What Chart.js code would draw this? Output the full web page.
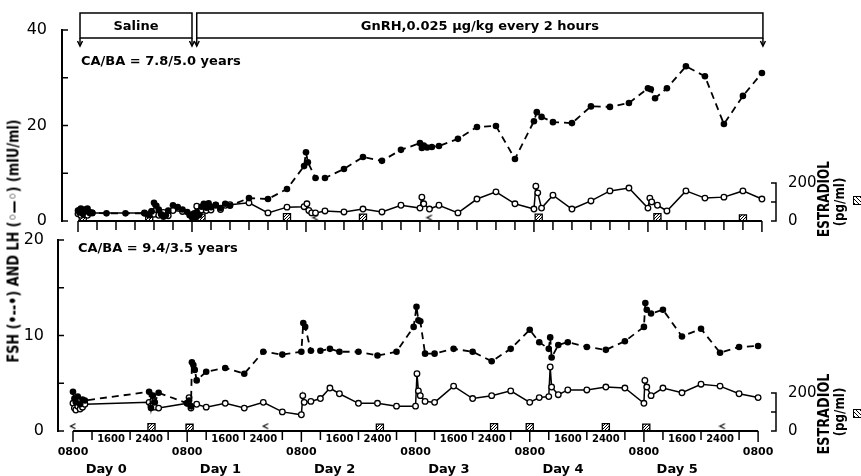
<!DOCTYPE html>
<html>
<head>
<meta charset="utf-8">
<script src="https://cdn.jsdelivr.net/npm/chart.js@4.4.1/dist/chart.umd.min.js"></script>
<style>
html, body { margin: 0; padding: 0; background: #fff; }
#wrap { position: relative; width: 861px; height: 476px; overflow: hidden; }
#wrap canvas { position: absolute; left: 0; top: 0; }
.lbl { position: absolute; font-family: 'DejaVu Sans', sans-serif; font-weight: bold; color: #000; white-space: nowrap; }
.hatch { position: absolute; width: 7px; height: 7px; border: 1px solid #000;
  background: repeating-linear-gradient(45deg, #000 0 1px, #fff 1px 3px); }
</style>
</head>
<body>
<div id="wrap">
  <canvas id="topChart" width="861" height="476"></canvas>
  <canvas id="botChart" width="861" height="476"></canvas>
  <div class="lbl" style="left:13px;top:241px;font-size:16px;transform:translate(-50%,-50%) rotate(-90deg) scale(0.8,1)">FSH (•--•) AND LH (◦—◦) (mIU/ml)</div>
  <div class="lbl" style="left:823px;top:199px;font-size:16px;transform:translate(-50%,-50%) rotate(-90deg) scale(0.75,1)">ESTRADIOL</div>
  <div class="lbl" style="left:839px;top:202px;font-size:14px;transform:translate(-50%,-50%) rotate(-90deg) scale(0.85,1)">(pg/ml)</div>
  <div class="hatch" style="left:853px;top:196px"></div>
  <div class="lbl" style="left:823px;top:414px;font-size:16px;transform:translate(-50%,-50%) rotate(-90deg) scale(0.8,1)">ESTRADIOL</div>
  <div class="lbl" style="left:839px;top:412px;font-size:14px;transform:translate(-50%,-50%) rotate(-90deg) scale(0.85,1)">(pg/ml)</div>
  <div class="hatch" style="left:853px;top:409px"></div>
</div>
<script>
// hours after 0800 on Day 0

// upper patient, CA/BA 7.8/5.0
const fshTopHours = [0,0.3,0.6,1,1.3,1.6,2,2.5,3,6,10,14,15,15.5,16,16.5,17,17.5,18,18.5,19,20,21,22,23,23.5,24,24.3,24.6,25,25.5,26,26.5,27,27.5,28,29,30,31,32,36,40,44,47.6,48,48.4,50,52,56,60,64,68,72,72.4,72.8,73.5,74.5,76,80,84,88,92,96,96.6,97.6,100,104,108,112,116,120,120.6,121.5,124,128,132,136,140,144];
const fshTop = [2.2,1.8,2.6,1.5,2.4,2.0,2.6,1.8,1.7,1.6,1.6,1.6,1.2,2.0,3.8,3.2,2.4,1.4,0.9,1.2,2.2,3.3,2.9,2.4,1.9,1.2,0.8,1.4,0.7,1.8,1.2,3.0,3.6,2.8,3.7,2.9,3.4,2.7,3.6,3.2,4.8,4.6,6.7,11.5,14.4,12.3,9.0,9.0,10.9,13.4,12.6,14.9,16.3,15.3,15.8,15.4,15.5,15.7,17.2,19.7,19.9,13.0,20.9,22.8,21.8,20.7,20.5,24.0,23.9,24.7,27.8,27.6,25.7,27.8,32.4,30.3,20.3,26.2,31.0];
const lhTopHours = [0,0.3,0.6,1,1.3,1.6,2,2.5,3,14,15,15.5,16,16.5,17,18,19,20,22,24,24.5,25,25.5,26,26.5,27,27.5,28,29,30,31,32,36,40,44,47.6,48.2,48.6,49.2,50,52,56,60,64,68,72,72.4,72.8,74,76,80,84,88,92,96,96.4,96.8,97.6,100,104,108,112,116,120,120.4,120.8,122,124,128,132,136,140,144];
const lhTop = [1.5,2.2,1.2,2.0,1.3,1.8,1.2,1.7,1.7,1.7,1.3,2.0,1.4,2.4,1.2,1.8,1.1,2.2,2.0,1.3,1.6,3.1,1.5,2.3,3.3,2.2,3.2,2.3,3.3,2.4,3.3,3.4,3.8,1.7,2.9,3.0,3.6,2.2,1.7,1.7,2.1,1.9,2.5,1.9,3.3,2.7,5.0,3.6,2.5,3.3,1.7,4.6,6.1,3.6,2.5,7.3,5.9,2.7,5.4,2.5,4.2,6.3,6.9,2.7,4.8,4.0,3.3,2.1,6.3,4.8,5.0,6.3,4.6];
const e2TopHours = [1,15,26,44,60,97,122,140];
const e2Top = [20,20,18,20,18,18,20,14];
const e2TopLowHours = [50,74];
const e2TopLow = [18,18];

// lower patient, CA/BA 9.4/3.5
const fshBotHours = [0,0.3,0.6,1,1.5,2,2.5,16,16.4,16.8,17.2,18,24,24.4,24.8,25,25.3,25.6,26,28,32,36,40,44,48,48.4,48.8,50,52,54,56,60,64,68,71.6,72.2,72.6,73,74,76,80,84,88,92,96,98,100,100.3,100.6,102,104,108,112,116,120,120.3,120.6,121.5,124,128,132,136,140,144];
const fshBot = [4.1,3.4,3.0,3.6,2.8,3.3,3.2,4.1,2.4,3.7,3.0,4.0,2.9,3.2,2.6,7.2,6.9,6.4,5.3,6.2,6.6,6.0,8.3,8.0,8.3,11.3,10.9,8.4,8.4,8.6,8.3,8.3,7.9,8.3,10.9,13.0,11.6,11.5,8.1,8.1,8.6,8.3,7.3,8.6,10.6,9.3,8.6,9.8,7.7,9.0,9.3,8.8,8.5,9.4,10.9,13.4,12.7,12.3,12.7,9.9,10.7,8.2,8.8,8.9];
const lhBotHours = [0,0.3,0.6,1,1.5,2,2.5,16,16.4,16.8,17.2,18,24,24.4,24.8,26,28,32,36,40,44,48,48.3,48.6,50,52,54,56,60,64,68,72,72.3,72.6,73,74,76,80,84,88,92,96,98,100,100.3,100.6,102,104,108,112,116,120,120.2,120.6,121.5,124,128,132,136,140,144];
const lhBot = [2.9,2.4,2.2,2.6,2.3,2.5,2.8,3.0,2.6,3.2,2.5,2.4,2.9,3.5,2.4,2.8,2.5,2.9,2.4,3.0,2.0,1.7,3.7,3.0,3.1,3.4,4.5,3.9,2.9,2.9,2.6,2.6,6.0,4.2,3.7,3.1,3.0,4.7,3.4,3.7,4.2,3.0,3.5,3.6,6.7,4.6,3.8,4.3,4.3,4.6,4.5,2.9,5.3,4.6,3.7,4.5,4.0,4.9,4.7,3.9,3.5];
const e2BotHours = [16.5,24.5,64.5,88.5,96,112,120.5];
const e2Bot = [20,17,18,20,20,20,18];
const e2BotLowHours = [0,40.5,136.5];
const e2BotLow = [25,25,25];

const dayLabels = ['Day 0','Day 1','Day 2','Day 3','Day 4','Day 5'];
const clockLabels = {0: '0800', 8: '1600', 16: '2400'};
const salineSpan = [0, 24];
const gnrhSpan = [25, 144];

Chart.defaults.font.family = "'DejaVu Sans', sans-serif";
Chart.defaults.color = '#000';

function pts(hours, vals) {
    return hours.map(function (h, i) { return {x: h, y: vals[i]}; });
}

function hatchPattern() {
    var c = document.createElement('canvas');
    c.width = 3; c.height = 3;
    var g = c.getContext('2d');
    g.fillStyle = '#fff'; g.fillRect(0, 0, 3, 3);
    g.fillStyle = '#000';
    g.fillRect(2, 0, 1, 1); g.fillRect(1, 1, 1, 1); g.fillRect(0, 2, 1, 1);
    return g.createPattern(c, 'repeat');
}

function lessThanMark() {
    var c = document.createElement('canvas');
    c.width = 8; c.height = 8;
    var g = c.getContext('2d');
    g.strokeStyle = '#000'; g.lineWidth = 1.2;
    g.beginPath(); g.moveTo(6.5, 1.5); g.lineTo(1.5, 4); g.lineTo(6.5, 6.5); g.stroke();
    return c;
}

const hatch = hatchPattern();
const ltMark = lessThanMark();

function decor(extra, skipLabelTicks) {
    return {
        id: 'decor',
        afterDraw: function (chart) {
            var ctx = chart.ctx, a = chart.chartArea;
            var x = chart.scales.x, y = chart.scales.y, e = chart.scales.e;
            ctx.save();
            ctx.strokeStyle = '#000';
            ctx.fillStyle = '#000';
            // time axis
            ctx.lineWidth = 2;
            ctx.beginPath();
            ctx.moveTo(x.getPixelForValue(0), a.bottom);
            ctx.lineTo(x.getPixelForValue(144), a.bottom);
            ctx.stroke();
            ctx.lineWidth = 1.5;
            for (var h = 0; h <= 144; h += 4) {
                if (skipLabelTicks && (h % 24 === 8 || h % 24 === 16)) continue;
                var px = x.getPixelForValue(h);
                ctx.beginPath();
                ctx.moveTo(px, a.bottom);
                ctx.lineTo(px, a.bottom + (h % 24 === 0 ? 11 : 9));
                ctx.stroke();
            }
            // inward y ticks
            y.ticks.forEach(function (t) {
                var py = y.getPixelForValue(t.value);
                ctx.beginPath();
                ctx.moveTo(a.left, py);
                ctx.lineTo(a.left + 6, py);
                ctx.stroke();
            });
            // estradiol bracket
            var bx = a.right + 6;
            var e0 = e.getPixelForValue(0), e1 = e.getPixelForValue(100), e2 = e.getPixelForValue(200);
            ctx.beginPath();
            ctx.moveTo(a.right + 1, e0); ctx.lineTo(bx, e0); ctx.lineTo(bx, e2); ctx.lineTo(a.right + 1, e2);
            ctx.moveTo(a.right + 1, e1); ctx.lineTo(bx, e1);
            ctx.stroke();
            extra(ctx, a, x, y);
            ctx.restore();
        }
    };
}

function makeChart(id, c) {
    return new Chart(document.getElementById(id), {
        type: 'scatter',
        data: {
            datasets: [
                {
                    data: pts(c.fshHours, c.fsh), yAxisID: 'y', showLine: true,
                    borderColor: '#000', borderWidth: 1.8, borderDash: [7, 5],
                    pointRadius: 3.3, pointBackgroundColor: '#000', pointBorderColor: '#000', pointBorderWidth: 0
                },
                {
                    data: pts(c.lhHours, c.lh), yAxisID: 'y', showLine: true,
                    borderColor: '#000', borderWidth: 1.5,
                    pointRadius: 2.8, pointBackgroundColor: '#fff', pointBorderColor: '#000', pointBorderWidth: 1.3
                },
                {
                    data: pts(c.e2Hours, c.e2), yAxisID: 'e', showLine: false,
                    pointStyle: 'rect', pointRadius: 5, pointBackgroundColor: hatch,
                    pointBorderColor: '#000', pointBorderWidth: 1.3
                },
                {
                    data: pts(c.e2LowHours, c.e2Low), yAxisID: 'e', showLine: false,
                    pointStyle: ltMark, pointRadius: 4
                }
            ]
        },
        options: {
            responsive: false,
            animation: false,
            devicePixelRatio: 1,
            events: [],
            layout: {padding: {top: c.top, bottom: 476 - c.bottom, left: 0, right: 0}},
            plugins: {legend: {display: false}, tooltip: {enabled: false}},
            scales: {
                x: {type: 'linear', display: false, min: c.xMin, max: c.xMax},
                y: {
                    position: 'left', min: 0, max: c.yMax,
                    afterFit: function (s) { s.width = c.left; },
                    afterBuildTicks: function (s) {
                        var t = [];
                        for (var v = 0; v <= c.yMax; v += c.yMax / 4) t.push({value: v});
                        s.ticks = t;
                    },
                    grid: {display: false},
                    border: {display: true, color: '#000', width: 2},
                    ticks: {
                        font: {size: 16}, padding: c.labelPad,
                        callback: function (v) { return v % (c.yMax / 2) === 0 ? v : ''; }
                    }
                },
                e: {
                    position: 'right', min: 0, max: 1005,
                    afterFit: function (s) { s.width = 861 - c.right; },
                    afterBuildTicks: function (s) { s.ticks = [{value: 0}, {value: 200}]; },
                    grid: {display: false},
                    border: {display: false},
                    ticks: {font: {size: 15}, padding: 10}
                }
            }
        },
        plugins: [decor(c.extra, c.skipLabelTicks)]
    });
}

function treatmentBox(ctx, xl, xr, label) {
    var yt = 13, yb = 38, tip = 46;
    ctx.lineWidth = 1.5;
    ctx.strokeRect(xl, yt, xr - xl, yb - yt);
    [xl, xr].forEach(function (px) {
        ctx.beginPath(); ctx.moveTo(px, yb); ctx.lineTo(px, tip); ctx.stroke();
        ctx.beginPath(); ctx.moveTo(px - 2.5, tip - 5); ctx.lineTo(px, tip); ctx.lineTo(px + 2.5, tip - 5); ctx.stroke();
    });
    ctx.font = 'bold 13px "DejaVu Sans"';
    ctx.textAlign = 'center';
    ctx.textBaseline = 'middle';
    ctx.fillText(label, (xl + xr) / 2, (yt + yb) / 2 + 1);
}

makeChart('topChart', {
    fshHours: fshTopHours, fsh: fshTop, lhHours: lhTopHours, lh: lhTop,
    e2Hours: e2TopHours, e2: e2Top, e2LowHours: e2TopLowHours, e2Low: e2TopLow,
    top: 30, bottom: 221, left: 62, right: 770, xMin: -3.37, xMax: 145.7, yMax: 40, labelPad: 7,
    skipLabelTicks: false,
    extra: function (ctx, a, x) {
        treatmentBox(ctx, x.getPixelForValue(salineSpan[0]) + 2, x.getPixelForValue(salineSpan[1]), 'Saline');
        treatmentBox(ctx, x.getPixelForValue(gnrhSpan[0]), x.getPixelForValue(gnrhSpan[1]) + 1, 'GnRH,0.025 \u00b5g/kg every 2 hours');
        ctx.font = 'bold 13px "DejaVu Sans"';
        ctx.textAlign = 'left';
        ctx.textBaseline = 'middle';
        ctx.fillText('CA/BA = 7.8/5.0 years', 81, 62);
    }
});

makeChart('botChart', {
    fshHours: fshBotHours, fsh: fshBot, lhHours: lhBotHours, lh: lhBot,
    e2Hours: e2BotHours, e2: e2Bot, e2LowHours: e2BotLowHours, e2Low: e2BotLow,
    top: 240, bottom: 431, left: 58, right: 770, xMin: -3.15, xMax: 146.5, yMax: 20, labelPad: 6,
    skipLabelTicks: true,
    extra: function (ctx, a, x) {
        ctx.textAlign = 'center';
        ctx.textBaseline = 'middle';
        for (var h = 0; h <= 144; h += 4) {
            var lab = clockLabels[h % 24];
            if (!lab) continue;
            var px = x.getPixelForValue(h);
            if (h % 24 === 0) {
                ctx.font = 'bold 11px "DejaVu Sans"';
                ctx.fillText(lab, px, a.bottom + 21);
            } else {
                ctx.font = 'bold 10px "DejaVu Sans"';
                ctx.fillText(lab, px, a.bottom + 8);
            }
        }
        ctx.font = 'bold 13px "DejaVu Sans"';
        dayLabels.forEach(function (d, i) {
            ctx.fillText(d, x.getPixelForValue(i * 24 + 7), a.bottom + 39);
        });
        ctx.textAlign = 'left';
        ctx.fillText('CA/BA = 9.4/3.5 years', 78, 249);
    }
});
</script>
</body>
</html>
